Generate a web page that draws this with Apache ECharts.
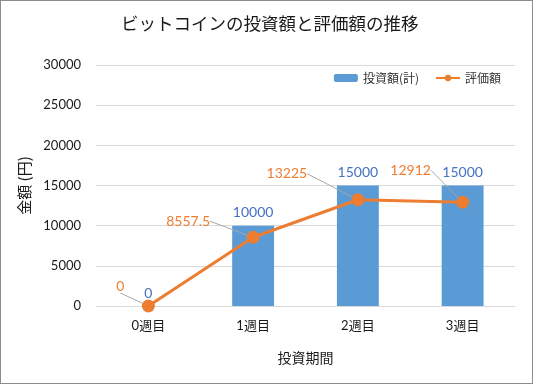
<!DOCTYPE html>
<html><head><meta charset="utf-8">
<script src="https://cdn.jsdelivr.net/npm/echarts@6/dist/echarts.min.js"></script>
<style>html,body{margin:0;padding:0;background:#fff}#c{width:531px;height:382px;border:1px solid #8c8c8c}</style>
</head><body><div id="c"></div>
<script>
const categories = ['0週目', '1週目', '2週目', '3週目'];
const investTotal = [0, 10000, 15000, 15000];
const valuation = [0, 8557.5, 13225, 12912];
const yTicks = [0, 5000, 10000, 15000, 20000, 25000, 30000];
const seriesNames = ['投資額(計)', '評価額'];

const FONT = 'Lato, "Noto Sans CJK JP", sans-serif';
const chart = echarts.init(document.getElementById('c'));
const lineLabelShift = [[-28, -20], [-65, -16], [-71, -26], [-52, -32]];
chart.setOption({
  animation: false,
  textStyle: {fontFamily: FONT},
  title: {
    text: 'ビットコインの投資額と評価額の推移',
    left: 115, top: 9,
    textStyle: {fontFamily: '"Noto Sans CJK JP", sans-serif', fontSize: 17.5, fontWeight: 'normal', color: '#1a1a1a'}
  },
  legend: {
    right: 26, top: 66, itemWidth: 24, itemHeight: 8, itemGap: 16,
    textStyle: {fontFamily: '"Noto Sans CJK JP", sans-serif', fontSize: 12, color: '#333'},
    data: seriesNames
  },
  grid: {left: 95, right: 17, top: 64, bottom: 77},
  xAxis: {
    type: 'category', data: categories,
    name: '投資期間', nameLocation: 'middle', nameGap: 45,
    nameTextStyle: {fontFamily: '"Noto Sans CJK JP", sans-serif', fontSize: 14, color: '#1a1a1a'},
    axisLine: {lineStyle: {color: '#d9d9d9'}},
    axisTick: {show: false},
    axisLabel: {fontSize: 13, color: '#1a1a1a', margin: 13}
  },
  yAxis: {
    type: 'value', min: yTicks[0], max: yTicks[yTicks.length - 1], interval: yTicks[1] - yTicks[0],
    name: '金額 (円)', nameLocation: 'middle', nameGap: 64, nameRotate: 90,
    nameTextStyle: {fontFamily: '"Noto Sans CJK JP", sans-serif', fontSize: 15, color: '#1a1a1a'},
    axisLine: {show: false}, axisTick: {show: false},
    splitLine: {lineStyle: {color: '#d9d9d9'}},
    axisLabel: {fontSize: 13, color: '#1a1a1a', margin: 15, formatter: function (v) { return String(v); }}
  },
  series: [
    {
      name: seriesNames[0], type: 'bar', data: investTotal, barWidth: '40%',
      itemStyle: {color: '#5B9BD5'},
      label: {show: true, position: 'top', distance: 6, fontSize: 14, color: '#4472C4'}
    },
    {
      name: seriesNames[1], type: 'line', data: valuation,
      symbol: 'circle', symbolSize: 13,
      lineStyle: {color: '#ED7D31', width: 3},
      itemStyle: {color: '#ED7D31'},
      label: {show: true, position: 'inside', fontSize: 14, color: '#ED7D31'},
      labelLine: {show: true, lineStyle: {color: '#a6a6a6', width: 1}},
      labelLayout: function (p) {
        const s = lineLabelShift[p.dataIndex];
        return {dx: s[0], dy: s[1]};
      },
      z: 5
    }
  ]
});
</script></body></html>
